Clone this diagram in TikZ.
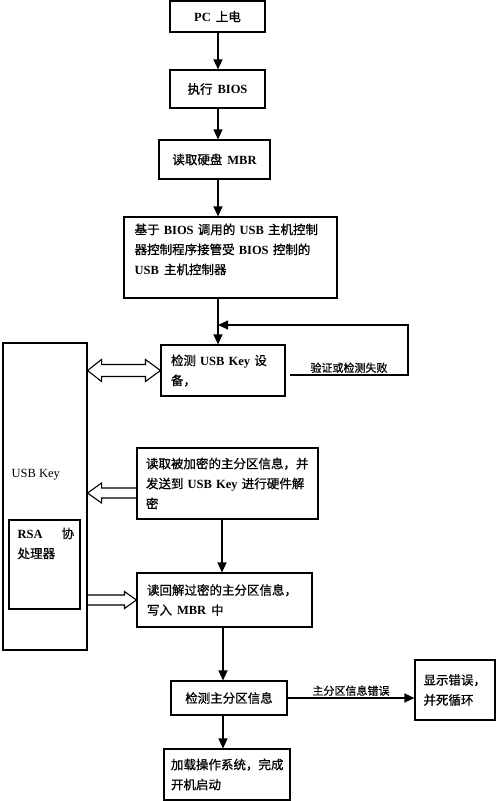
\documentclass[tikz,border=0pt]{standalone}
\usepackage{fontspec}
\setmainfont{Noto Sans CJK SC}[FakeBold=0.8]
\newfontfamily\latfont{Liberation Serif}
\newcommand\LatW[1]{{\latfont\bfseries #1}}
\newcommand\LatR[1]{{\latfont #1}}
\newcommand\gp{\hspace{5pt}}
\usetikzlibrary{arrows.meta,calc}
\tikzset{
  box/.style={draw,line width=1.1pt,inner sep=0pt,align=center,font=\fontsize{12.5}{20}\selectfont},
  txt/.style={inner sep=0pt,align=left,font=\fontsize{12.5}{20}\selectfont},
  lbl/.style={inner sep=2pt,font=\fontsize{11}{13}\selectfont},
  arr/.style={line width=1.1pt,-{Triangle[length=10pt,width=9pt]}},
  hol/.style={line width=1.1pt,line join=miter}
}
\begin{document}
\begin{tikzpicture}[x=1pt,y=-1pt]
\useasboundingbox (0,0) rectangle (500,801);
\coordinate (colA) at (218,0);
\coordinate (colB) at (222,0);
\coordinate (colC) at (223,0);
% main boxes
\node[box,minimum width=95pt,minimum height=31pt] (b1) at (217.5,16.5) {\LatW{PC}\gp 上电};
\node[box,minimum width=95pt,minimum height=38pt] (b2) at (217.5,89) {执行\gp\LatW{BIOS}};
\node[box,minimum width=111pt,minimum height=39pt] (b3) at (214.5,159.5) {读取硬盘\gp\LatW{MBR}};
\node[box,minimum width=213pt,minimum height=81pt] (b4) at (230.5,257.5) {};
\node[txt,anchor=north west,text width=193pt] (t4) at ($(b4.north west)+(11,7)$)
  {\makebox[193pt][s]{基于 \LatW{BIOS} 调用的 \LatW{USB} 主机控制}\\
   \makebox[193pt][s]{器控制程序接管受 \LatW{BIOS} 控制的}\\
   \LatW{USB}\gp 主机控制器};
\node[box,align=left,text width=104pt,minimum width=124pt,minimum height=51pt] (b5) at (223,370.5)
  {\makebox[104pt][s]{检测 \LatW{USB} \LatW{Key} 设}\\备，};
\node[box,align=left,text width=163pt,minimum width=181pt,minimum height=71pt] (b6) at (227.5,483.5)
  {读取被加密的主分区信息，并\\
   \makebox[163pt][s]{发送到 \LatW{USB} \LatW{Key} 进行硬件解}\\密};
\node[box,align=left,text width=155pt,minimum width=175pt,minimum height=54pt] (b7) at (224.5,600)
  {读回解过密的主分区信息，\\写入\gp\LatW{MBR}\gp 中};
\node[box,minimum width=116pt,minimum height=34pt] (b8) at (229,698) {检测主分区信息};
\node[box,align=left,text width=63pt,minimum width=80pt,minimum height=60pt] (b9) at (455,690)
  {显示错误，\\并死循环};
\node[box,align=left,text width=112pt,minimum width=126pt,minimum height=51pt] (b10) at (227,774.5)
  {加载操作系统，完成\\开机启动};
% USB Key side
\node[box,minimum width=84pt,minimum height=307pt] (usbkey) at (45,496.5) {};
\node[txt,anchor=west] (ukl) at ($(usbkey.north west)+(9,132)$) {\LatR{USB Key}};
\node[box,minimum width=71pt,minimum height=89pt] (rsa) at (44.5,564.5) {};
\node[txt,anchor=north west] (rsat) at ($(rsa.north west)+(9,8)$) {\LatW{RSA}\hspace{19pt}协\\处理器};
% down arrows
\draw[arr] (b1.south -| colA) -- (b2.north -| colA);
\draw[arr] (b2.south -| colA) -- (b3.north -| colA);
\draw[arr] (b3.south -| colA) -- (b4.north -| colA);
\draw[arr] (b4.south -| colA) -- (b5.north -| colA);
\draw[arr] (b6.south -| colB) -- (b7.north -| colB);
\draw[arr] (b7.south -| colC) -- (b8.north -| colC);
\draw[arr] (b8.south -| colC) -- (b10.north -| colC);
% feedback loop
\coordinate (fb0) at (290,375);
\coordinate (fb1) at (408,325);
\draw[arr] (fb0) -| (fb1) -- (fb1 -| colA);
\node[lbl,anchor=south] (fbl) at ($(fb0)!0.5!(fb0 -| fb1)$) {验证或检测失败};
% error branch
\draw[arr] (b8.east) -- (b9.west |- b8.east);
\node[lbl,anchor=south] (errl) at ($(b8.east)!0.5!(b9.west |- b8.east)$) {主分区信息错误};
% hollow double arrow
\coordinate (dL) at (usbkey.east |- b5.west);
\coordinate (dR) at (b5.west);
\draw[hol] (dL) -- ($(dL)+(14,-11)$) -- ($(dL)+(14,-6)$) -- ($(dR)+(-15,-6)$) -- ($(dR)+(-15,-11)$)
  -- (dR) -- ($(dR)+(-15,11)$) -- ($(dR)+(-15,6)$) -- ($(dL)+(14,6)$) -- ($(dL)+(14,11)$) -- cycle;
% hollow arrow to USB Key
\coordinate (eR) at ($(b6.west)+(0,9.5)$);
\coordinate (eL) at (usbkey.east |- eR);
\draw[hol] ($(eR)+(0,-5)$) -- ($(eL)+(14,-5)$) -- ($(eL)+(14,-10)$) -- (eL)
  -- ($(eL)+(14,10)$) -- ($(eL)+(14,5)$) -- ($(eR)+(0,5)$);
% hollow arrow from USB Key
\coordinate (fL) at (usbkey.east |- b7.west);
\coordinate (fR) at (b7.west);
\draw[hol] ($(fL)+(0,-5)$) -- ($(fR)+(-12,-5)$) -- ($(fR)+(-12,-8.5)$) -- (fR)
  -- ($(fR)+(-12,8.5)$) -- ($(fR)+(-12,5)$) -- ($(fL)+(0,5)$);
\end{tikzpicture}
\end{document}
